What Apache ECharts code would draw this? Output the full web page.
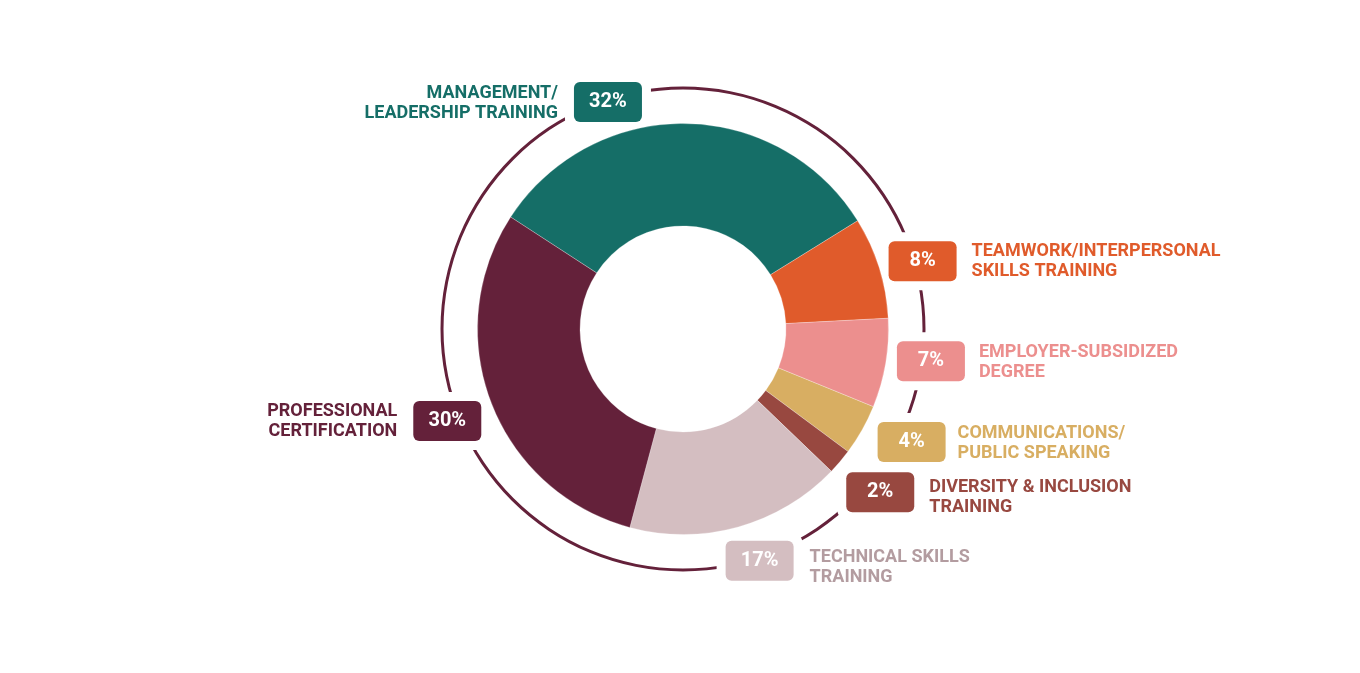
<!DOCTYPE html>
<html>
<head>
<meta charset="utf-8">
<script src="https://cdn.jsdelivr.net/npm/echarts@6/dist/echarts.min.js"></script>
<style>
html, body { margin: 0; padding: 0; background: #fff; }
#chart { width: 1360px; height: 673px; }
</style>
</head>
<body>
<div id="chart"></div>
<script>
// data
var categories = [
	'MANAGEMENT/\nLEADERSHIP TRAINING',
	'TEAMWORK/INTERPERSONAL\nSKILLS TRAINING',
	'EMPLOYER-SUBSIDIZED\nDEGREE',
	'COMMUNICATIONS/\nPUBLIC SPEAKING',
	'DIVERSITY & INCLUSION\nTRAINING',
	'TECHNICAL SKILLS\nTRAINING',
	'PROFESSIONAL\nCERTIFICATION'
];
var shares = [32, 8, 7, 4, 2, 17, 30];
var sliceColors = ['#156E67', '#E05B2B', '#EC8F8E', '#D8AE62', '#984840', '#D4BEC1', '#64213A'];
var nameColors = ['#156E67', '#E05B2B', '#EC8F8E', '#D8AE62', '#984840', '#B39CA0', '#64213A'];

// layout
var cx = 683, cy = 329;
var startAngle = 147;
var labelTurn = [18.9, -1.6, 2.2, 3.1, 0.6, 2.7, 0.3];
var labelRadius = [239, 249, 250, 255, 256, 244, 253];
var leftSide = [true, false, false, false, false, false, true];
var nameDx = [-16, 15, 14, 12, 15, 16, -16];
var nameDy = [1, 0, 1, 2, 5, 7, 1];

var total = shares.reduce(function (a, b) { return a + b; }, 0);

function boxCenter(i) {
	var before = 0;
	for (var k = 0; k < i; k++) before += shares[k];
	var mid = startAngle - (before + shares[i] / 2) / total * 360 + labelTurn[i];
	var rad = mid * Math.PI / 180;
	return [cx + labelRadius[i] * Math.cos(rad), cy - labelRadius[i] * Math.sin(rad)];
}

function centerLayout(p) {
	var c = boxCenter(p.dataIndex);
	return { x: c[0], y: c[1], align: 'center', verticalAlign: 'middle' };
}

var font = 'Roboto, "Noto Sans", sans-serif';

var rich = {};
sliceColors.forEach(function (c, i) {
	rich['p' + i] = {
		backgroundColor: c,
		color: '#fff',
		width: 68,
		height: 40,
		lineHeight: 40,
		align: 'center',
		borderRadius: 6,
		fontFamily: font,
		fontSize: 20,
		fontWeight: 'bold'
	};
});

function hiddenData() {
	return shares.map(function (v, i) {
		return { value: v, name: categories[i], itemStyle: { color: 'rgba(0,0,0,0)' } };
	});
}

function labelPie(z, label, layout, data) {
	return {
		type: 'pie',
		silent: true,
		z: z,
		center: [cx, cy],
		radius: [103, 205.5],
		startAngle: startAngle,
		clockwise: true,
		avoidLabelOverlap: false,
		label: label,
		labelLine: { show: false },
		labelLayout: layout,
		data: data
	};
}

var chart = echarts.init(document.getElementById('chart'));
var option = {
	backgroundColor: '#fff',
	animation: false,
	series: [
		{
			// thin outer ring
			type: 'pie',
			silent: true,
			z: 1,
			center: [cx, cy],
			radius: [239.5, 242.5],
			label: { show: false },
			labelLine: { show: false },
			data: [{ value: 1, itemStyle: { color: '#64213A' } }]
		},
		// white gaps in the ring around the boxes
		labelPie(2, {
			show: true,
			position: 'outside',
			formatter: '{w|}',
			rich: { w: { width: 86, height: 58, backgroundColor: '#fff', borderRadius: 12 } }
		}, centerLayout, hiddenData()),
		{
			type: 'pie',
			silent: true,
			z: 3,
			center: [cx, cy],
			radius: [103, 205.5],
			startAngle: startAngle,
			clockwise: true,
			label: { show: false },
			labelLine: { show: false },
			itemStyle: { borderColor: 'rgba(255,255,255,0.5)', borderWidth: 0.5 },
			data: shares.map(function (v, i) {
				return { value: v, name: categories[i], itemStyle: { color: sliceColors[i] } };
			})
		},
		// percent boxes
		labelPie(4, {
			show: true,
			position: 'outside',
			formatter: function (p) {
				return '{p' + p.dataIndex + '|' + shares[p.dataIndex] + '%}';
			},
			rich: rich
		}, centerLayout, hiddenData()),
		// category names
		labelPie(5, {
			show: true,
			position: 'outside',
			fontFamily: font,
			fontWeight: 'bold',
			fontSize: 18,
			lineHeight: 20,
			formatter: '{b}'
		}, function (p) {
			var i = p.dataIndex;
			var c = boxCenter(i);
			return {
				x: c[0] + (leftSide[i] ? -34 : 34) + nameDx[i],
				y: c[1] + nameDy[i],
				align: leftSide[i] ? 'right' : 'left',
				verticalAlign: 'middle'
			};
		}, shares.map(function (v, i) {
			return {
				value: v,
				name: categories[i],
				itemStyle: { color: 'rgba(0,0,0,0)' },
				label: { color: nameColors[i] }
			};
		}))
	]
};
chart.setOption(option);
</script>
</body>
</html>
